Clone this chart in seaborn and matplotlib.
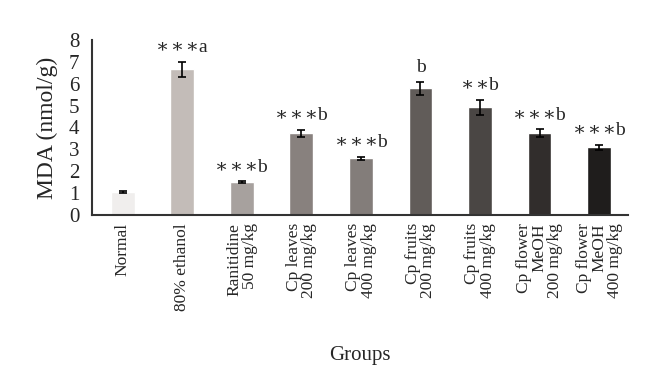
import numpy as np
import matplotlib
matplotlib.use("Agg")
import matplotlib.pyplot as plt
import seaborn as sns

# Datos
grupos = [
    "Normal",
    "80% ethanol",
    "Ranitidine\n50 mg/kg",
    "Cp leaves\n200 mg/kg",
    "Cp leaves\n400 mg/kg",
    "Cp fruits\n200 mg/kg",
    "Cp fruits\n400 mg/kg",
    "Cp flower\nMeOH\n200 mg/kg",
    "Cp flower\nMeOH\n400 mg/kg",
]
mda = [1.05, 6.66, 1.49, 3.73, 2.59, 5.79, 4.92, 3.73, 3.08]
error = [0.06, 0.35, 0.05, 0.17, 0.06, 0.30, 0.34, 0.18, 0.12]
etiquetas = ["", "***a", "***b", "***b", "***b", "b", "**b", "***b", "***b"]
colores = ["#f1eeec", "#c5bbb6", "#a9a09c", "#8a807c", "#847c79",
           "#625b58", "#4b4543", "#322d2b", "#201d1b"]

sns.set_style("white")
plt.rcParams["font.family"] = ["Liberation Serif", "DejaVu Serif"]

fig = plt.figure(figsize=(6.6, 3.73), dpi=100)
ax = fig.add_axes([0.139, 0.424, 0.813, 0.469])

sns.barplot(
    x=grupos,
    y=mda,
    hue=grupos,
    palette=colores,
    width=0.4,
    legend=False,
    ax=ax
)

posiciones = np.arange(len(grupos))
ax.errorbar(
    posiciones,
    mda,
    yerr=error,
    fmt="none",
    ecolor="black",
    elinewidth=1.2,
    capsize=3,
    capthick=1.2
)

# Letras de significancia (asteriscos centrados y algo espaciados)
for x, y, e, txt in zip(posiciones, mda, error, etiquetas):
    if txt:
        n = txt.count("*")
        texto = "\u200a".join("∗" for _ in range(n)) + txt.replace("*", "")
        ax.annotate(
            texto,
            (x, y + e),
            xytext=(0, 4),
            textcoords="offset points",
            ha="center",
            va="bottom",
            fontsize=14
        )

ax.set_ylim(0, 8)
ax.set_xlim(-0.52, 8.49)
ax.set_yticks(range(0, 9))
ax.tick_params(axis="y", labelsize=15, length=0, pad=9)
ax.tick_params(axis="x", length=0, pad=6)
ax.set_xticks(posiciones)
ax.set_xticklabels(grupos, rotation=90, fontsize=12.5, va="top", ha="center",
                   multialignment="right", linespacing=0.95)

ax.set_ylabel("MDA (nmol/g)", fontsize=17, labelpad=8)
ax.set_xlabel("")
fig.text(0.545, 0.048, "Groups", ha="center", va="center", fontsize=15)

sns.despine(ax=ax)
for lado in ["left", "bottom"]:
    ax.spines[lado].set_color("#333333")
    ax.spines[lado].set_linewidth(1.5)

fig.savefig("out.png", dpi=100)
